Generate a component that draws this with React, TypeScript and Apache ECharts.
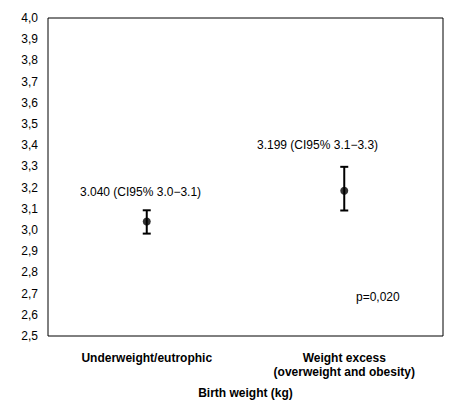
import React, { useEffect, useRef } from "react";
import * as echarts from "echarts";

const categories = ["Underweight/eutrophic", "Weight excess\n(overweight and obesity)"];
const means = [3.04, 3.185];
const lower = [2.983, 3.092];
const upper = [3.093, 3.298];
const annotations = ["3.040 (CI95% 3.0\u22123.1)", "3.199 (CI95% 3.1\u22123.3)", "p=0,020"];

const FONT = "'Liberation Sans', Arial, sans-serif";

export default function App() {
  const ref = useRef<HTMLDivElement>(null);
  useEffect(() => {
    document.body.style.margin = "0";
    const chart = echarts.init(ref.current!, null, { renderer: "svg" });
    chart.setOption({
      animation: false,
      backgroundColor: "#fff",
      textStyle: { fontFamily: FONT },
      grid: {
        left: 48,
        top: 18,
        right: 14,
        bottom: 59,
        show: true,
        borderColor: "#000",
        borderWidth: 1,
        backgroundColor: "transparent",
      },
      xAxis: {
        type: "category",
        data: categories,
        axisLine: { show: false },
        axisTick: { show: false },
        axisLabel: {
          color: "#000",
          fontSize: 12,
          fontWeight: "bold",
          fontFamily: FONT,
          margin: 9,
          lineHeight: 14,
          padding: [6, 0, 0, 0],
        },
        name: "Birth weight (kg)",
        nameLocation: "middle",
        nameGap: 51,
        nameTextStyle: { color: "#000", fontSize: 12, fontWeight: "bold", fontFamily: FONT },
        splitLine: { show: false },
      },
      yAxis: {
        type: "value",
        min: 2.5,
        max: 4.0,
        interval: 0.1,
        axisLine: { show: false },
        axisTick: { show: false },
        splitLine: { show: false },
        axisLabel: {
          color: "#000",
          fontSize: 12,
          fontFamily: FONT,
          margin: 10,
          formatter: (v: number) => v.toFixed(1).replace(".", ","),
        },
      },
      series: [
        {
          type: "custom",
          data: categories.map((_, i) => [i, lower[i], upper[i]]),
          renderItem: (params: any, api: any) => {
            const x = api.value(0);
            const lo = api.coord([x, api.value(1)]);
            const hi = api.coord([x, api.value(2)]);
            const hw = 4;
            const style = { stroke: "#000", lineWidth: 2 };
            return {
              type: "group",
              children: [
                { type: "line", shape: { x1: lo[0], y1: lo[1], x2: hi[0], y2: hi[1] }, style },
                { type: "line", shape: { x1: lo[0] - hw, y1: lo[1], x2: lo[0] + hw, y2: lo[1] }, style },
                { type: "line", shape: { x1: hi[0] - hw, y1: hi[1], x2: hi[0] + hw, y2: hi[1] }, style },
              ],
            };
          },
          z: 2,
        },
        {
          type: "scatter",
          data: categories.map((_, i) => [i, means[i]]),
          symbol: "circle",
          symbolSize: 8,
          itemStyle: { color: "#000" },
          z: 3,
        },
      ],
      graphic: [
        {
          type: "text",
          left: 80,
          top: 186,
          style: { text: annotations[0], fill: "#000", font: `12px ${FONT}` },
        },
        {
          type: "text",
          left: 257,
          top: 139,
          style: { text: annotations[1], fill: "#000", font: `12px ${FONT}` },
        },
        {
          type: "text",
          left: 356,
          top: 291,
          style: { text: annotations[2], fill: "#000", font: `12px ${FONT}` },
        },
      ],
    });
    return () => chart.dispose();
  }, []);
  return <div ref={ref} style={{ width: 457, height: 404 }} />;
}
